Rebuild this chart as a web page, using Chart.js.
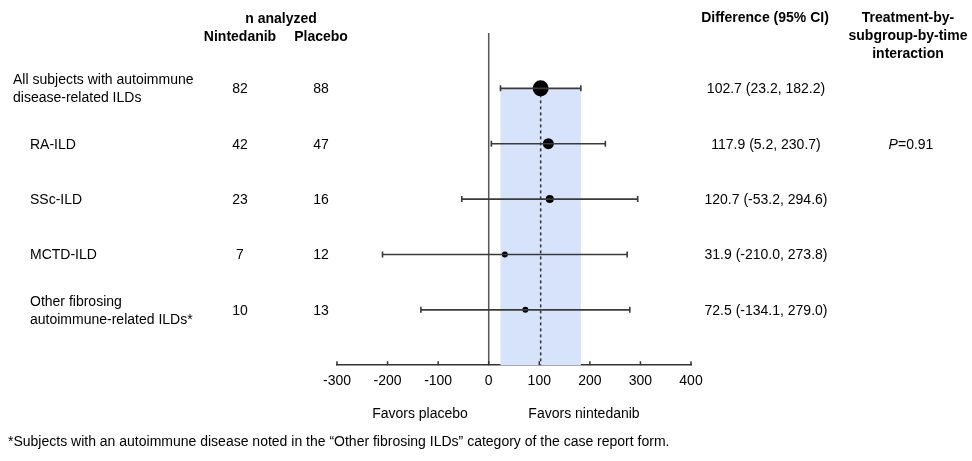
<!DOCTYPE html>
<html>
<head>
<meta charset="utf-8">
<script src="https://cdn.jsdelivr.net/npm/chart.js@4"></script>
<style>
  html, body { margin: 0; padding: 0; background: #fff; }
  #wrap { position: relative; width: 972px; height: 461px; font-family: Arial, "Liberation Sans", sans-serif; font-size: 14px; color: #000; }
  #forest { position: absolute; left: 0; top: 0; }
  .t { position: absolute; white-space: pre; line-height: 18px; }
  .c { transform: translate(-50%, -50%); text-align: center; }
  .l { transform: translateY(-50%); }
  .b { font-weight: bold; }
</style>
</head>
<body>
<div id="wrap">
  <canvas id="forest" width="972" height="461"></canvas>
</div>
<script>
// datos del forest plot
const subgroups = ['All subjects with autoimmune\ndisease-related ILDs', 'RA-ILD', 'SSc-ILD', 'MCTD-ILD', 'Other fibrosing\nautoimmune-related ILDs*'];
const nNintedanib = [82, 42, 23, 7, 10];
const nPlacebo = [88, 47, 16, 12, 13];
const difference = [102.7, 117.9, 120.7, 31.9, 72.5];
const ciLower = [23.2, 5.2, -53.2, -210.0, -134.1];
const ciUpper = [182.2, 230.7, 294.6, 273.8, 279.0];
const interactionP = ['', '0.91', '', '', ''];
const xTicks = [-300, -200, -100, 0, 100, 200, 300, 400];

// tamaño del punto según el peso del subgrupo
const markerRadius = [8, 5.5, 4, 3, 3];

const fmt = v => v.toFixed(1);

// banda del IC global, línea de cero, línea punteada y marcas del eje
const refLines = {
  id: 'refLines',
  beforeDatasetsDraw(chart) {
    const { ctx, chartArea, scales: { x, y } } = chart;
    const x0 = x.getPixelForValue(ciLower[0]);
    const x1 = x.getPixelForValue(ciUpper[0]);
    const yTop = y.getPixelForValue(0);
    ctx.save();
    ctx.fillStyle = '#d6e3fb';
    ctx.fillRect(x0, yTop, x1 - x0, chartArea.bottom - yTop);

    ctx.strokeStyle = '#555';
    ctx.lineWidth = 1.5;
    ctx.beginPath();
    ctx.moveTo(x.getPixelForValue(0), chartArea.top);
    ctx.lineTo(x.getPixelForValue(0), chartArea.bottom);
    ctx.stroke();

    ctx.strokeStyle = '#333';
    ctx.setLineDash([3, 3]);
    ctx.beginPath();
    ctx.moveTo(x.getPixelForValue(difference[0]), yTop);
    ctx.lineTo(x.getPixelForValue(difference[0]), chartArea.bottom);
    ctx.stroke();
    ctx.setLineDash([]);

    ctx.strokeStyle = '#333';
    x.ticks.forEach(t => {
      const px = x.getPixelForValue(t.value);
      ctx.beginPath();
      ctx.moveTo(px, chartArea.bottom);
      ctx.lineTo(px, chartArea.bottom - 4);
      ctx.stroke();
    });
    ctx.restore();
  }
};

const datasets = subgroups.map((s, i) => ({
  type: 'line',
  data: [{ x: ciLower[i], y: i }, { x: ciUpper[i], y: i }],
  borderColor: '#3a3a3a',
  borderWidth: 1.6,
  pointStyle: 'line',
  rotation: 90,
  pointRadius: 3,
  pointBorderWidth: 1.6,
  pointBorderColor: '#3a3a3a',
}));

datasets.push({
  type: 'scatter',
  data: difference.map((d, i) => ({ x: d, y: i })),
  backgroundColor: '#000',
  borderColor: '#000',
  pointRadius: markerRadius,
  pointHoverRadius: markerRadius,
  borderWidth: 0,
});

const chart = new Chart(document.getElementById('forest'), {
  type: 'scatter',
  data: { datasets: datasets },
  options: {
    responsive: false,
    animation: false,
    events: [],
    layout: { autoPadding: false, padding: { left: 337, right: 281, top: 33, bottom: 63 } },
    plugins: { legend: { display: false }, tooltip: { enabled: false } },
    scales: {
      x: {
        type: 'linear',
        min: xTicks[0],
        max: xTicks[xTicks.length - 1],
        afterBuildTicks: axis => { axis.ticks = xTicks.map(v => ({ value: v })); },
        grid: { display: false, drawTicks: false },
        border: { display: true, color: '#333', width: 1.5 },
        ticks: { color: '#000', padding: 8, font: { family: 'Arial, "Liberation Sans", sans-serif', size: 14 } },
      },
      y: {
        type: 'linear',
        reverse: true,
        min: -1,
        max: subgroups.length,
        display: false,
      },
    },
  },
  plugins: [refLines],
});

// textos de la tabla, alineados con las filas de la escala y
const wrap = document.getElementById('wrap');
function addText(html, x, y, cls) {
  const d = document.createElement('div');
  d.className = 't ' + cls;
  d.style.left = x + 'px';
  d.style.top = y + 'px';
  d.innerHTML = html;
  wrap.appendChild(d);
}

addText('n analyzed', 281, 18, 'c b');
addText('Nintedanib', 240, 36, 'c b');
addText('Placebo', 321, 36, 'c b');
addText('Difference (95% CI)', 765, 17, 'c b');
addText('Treatment-by-\nsubgroup-by-time\ninteraction', 908, 35, 'c b');

const ys = chart.scales.y;
subgroups.forEach((s, i) => {
  const py = ys.getPixelForValue(i);
  addText(s, i === 0 ? 13 : 30, py, 'l');
  addText(nNintedanib[i], 240, py, 'c');
  addText(nPlacebo[i], 321, py, 'c');
  addText(fmt(difference[i]) + ' (' + fmt(ciLower[i]) + ', ' + fmt(ciUpper[i]) + ')', 766, py, 'c');
  if (interactionP[i]) addText('<i>P</i>=' + interactionP[i], 911, py, 'c');
});

addText('Favors placebo', 420, 413, 'c');
addText('Favors nintedanib', 584, 413, 'c');
addText('*Subjects with an autoimmune disease noted in the \u201cOther fibrosing ILDs\u201d category of the case report form.', 8, 441, 'l');
</script>
</body>
</html>
